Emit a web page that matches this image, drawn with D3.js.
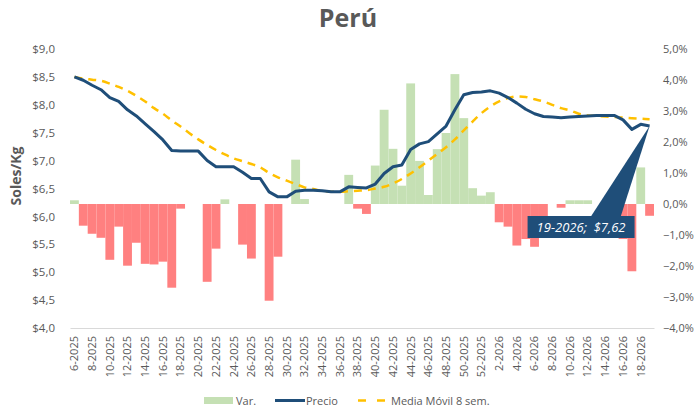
<!DOCTYPE html>
<html>
<head>
<meta charset="utf-8">
<script src="https://cdn.jsdelivr.net/npm/d3@7"></script>
<style>
  body { margin: 0; background: #fff; }
  text { font-family: "Open Sans", sans-serif; fill: #595959; }
</style>
</head>
<body>
<div id="chart"></div>
<script>
// weekly categories (week-year)
var weeks = ["6-2025","7-2025","8-2025","9-2025","10-2025","11-2025","12-2025","13-2025","14-2025","15-2025",
  "16-2025","17-2025","18-2025","19-2025","20-2025","21-2025","22-2025","23-2025","24-2025","25-2025",
  "26-2025","27-2025","28-2025","29-2025","30-2025","31-2025","32-2025","33-2025","34-2025","35-2025",
  "36-2025","37-2025","38-2025","39-2025","40-2025","41-2025","42-2025","43-2025","44-2025","45-2025",
  "46-2025","47-2025","48-2025","49-2025","50-2025","51-2025","52-2025","1-2026","2-2026","3-2026",
  "4-2026","5-2026","6-2026","7-2026","8-2026","9-2026","10-2026","11-2026","12-2026","13-2026",
  "14-2026","15-2026","16-2026","17-2026","18-2026","19-2026"];

// weekly variation, %
var variacion = [0.12,-0.70,-0.96,-1.09,-1.80,-0.73,-1.99,-1.25,-1.93,-1.95,
  -1.86,-2.70,-0.15,0,0,-2.51,-1.44,0.15,0,-1.31,
  -1.76,0,-3.12,-1.70,0,1.43,0.16,0,0,0,
  0,0.94,-0.15,-0.32,1.24,3.04,1.78,0.59,3.89,1.39,
  0.29,1.77,2.29,4.19,2.77,0.51,0.27,0.38,-0.59,-0.73,
  -1.34,-1.13,-1.38,-0.60,0,-0.12,0.12,0.12,0.12,0,
  0,0,-1.13,-2.17,1.18,-0.38];

// price, soles/kg
var precio = [8.50,8.44,8.35,8.27,8.13,8.06,7.91,7.80,7.66,7.52,
  7.37,7.18,7.17,7.17,7.17,7.00,6.89,6.89,6.89,6.79,
  6.68,6.68,6.44,6.35,6.35,6.45,6.47,6.47,6.46,6.44,
  6.44,6.53,6.52,6.51,6.58,6.77,6.89,6.92,7.20,7.30,
  7.34,7.48,7.62,7.91,8.18,8.22,8.23,8.25,8.21,8.13,
  8.03,7.92,7.84,7.79,7.78,7.77,7.78,7.79,7.80,7.81,
  7.81,7.81,7.73,7.56,7.65,7.62];

// 8-week moving average
var mediaMovil = [8.50,8.47,8.45,8.43,8.38,8.32,8.25,8.16,8.06,7.94,
  7.84,7.72,7.61,7.49,7.38,7.28,7.19,7.11,7.04,6.99,
  6.94,6.88,6.78,6.70,6.64,6.58,6.52,6.49,6.46,6.44,
  6.44,6.45,6.46,6.47,6.50,6.53,6.59,6.67,6.77,6.88,
  7.00,7.12,7.24,7.38,7.54,7.70,7.85,7.97,8.06,8.12,
  8.15,8.14,8.10,8.06,8.00,7.94,7.90,7.84,7.81,7.80,
  7.79,7.78,7.77,7.76,7.75,7.74];

var leftTicks = [4,4.5,5,5.5,6,6.5,7,7.5,8,8.5,9];
var rightTicks = [-4,-3,-2,-1,0,1,2,3,4,5];

var width = 695, height = 411;
var plot = {left: 70, right: 654, top: 49, bottom: 328};

var svg = d3.select("#chart").append("svg")
  .attr("width", width)
  .attr("height", height);

var x = d3.scaleBand().domain(weeks).range([plot.left, plot.right]).padding(0);
var yL = d3.scaleLinear().domain([4, 9]).range([plot.bottom, plot.top]);
var yR = d3.scaleLinear().domain([-4, 5]).range([plot.bottom, plot.top]);

var comma = function(s){ return s.replace(".", ","); };

// title
svg.append("text")
  .attr("x", 348).attr("y", 27)
  .attr("text-anchor", "middle")
  .style("font-size", "25px").style("font-weight", "bold")
  .text("Perú");

// bars (Var.)
svg.append("g").selectAll("rect")
  .data(variacion)
  .join("rect")
    .attr("x", function(d, i){ return x(weeks[i]); })
    .attr("width", x.bandwidth())
    .attr("y", function(d){ return d >= 0 ? yR(d) : yR(0); })
    .attr("height", function(d){ return Math.abs(yR(d) - yR(0)); })
    .attr("fill", function(d){ return d >= 0 ? "#C5E0B4" : "#FF8080"; });

// x axis
var xAxis = svg.append("g")
  .attr("transform", "translate(0," + plot.bottom + ")")
  .call(d3.axisBottom(x).tickSize(0).tickValues(weeks.filter(function(d, i){ return i % 2 == 0; })));
xAxis.select(".domain").attr("stroke", "#D9D9D9");
xAxis.selectAll("text")
  .attr("transform", "rotate(-90)")
  .attr("text-anchor", "end")
  .attr("x", -8).attr("y", 0).attr("dy", "0.35em")
  .style("font-size", "11px").style("fill", "#595959");

// left axis
var lAxis = svg.append("g")
  .attr("transform", "translate(" + (plot.left - 12) + ",0)")
  .call(d3.axisLeft(yL).tickValues(leftTicks).tickSize(0)
    .tickFormat(function(d){ return "$" + comma(d3.format(".1f")(d)); }));
lAxis.select(".domain").remove();
lAxis.selectAll("text").style("font-size", "11.5px").style("fill", "#595959");

// right axis
var rAxis = svg.append("g")
  .attr("transform", "translate(" + (plot.right + 6) + ",0)")
  .call(d3.axisRight(yR).tickValues(rightTicks).tickSize(0)
    .tickFormat(function(d){ return comma(d3.format(".1f")(d)) + "%"; }));
rAxis.select(".domain").remove();
rAxis.selectAll("text").style("font-size", "11px").style("fill", "#595959");

// axis title
svg.append("text")
  .attr("transform", "translate(21,176) rotate(-90)")
  .attr("text-anchor", "middle")
  .style("font-size", "14px").style("font-weight", "bold")
  .text("Soles/Kg");

var cx = function(i){ return x(weeks[i]) + x.bandwidth() / 2; };

// moving average
svg.append("path")
  .datum(mediaMovil)
  .attr("fill", "none")
  .attr("stroke", "#FFC000")
  .attr("stroke-width", 2.5)
  .attr("stroke-dasharray", "8,6")
  .attr("d", d3.line().x(function(d, i){ return cx(i); }).y(function(d){ return yL(d); }).curve(d3.curveMonotoneX));

// price line
svg.append("path")
  .datum(precio)
  .attr("fill", "none")
  .attr("stroke", "#1F4E79")
  .attr("stroke-width", 3)
  .attr("stroke-linejoin", "round")
  .attr("d", d3.line().x(function(d, i){ return cx(i); }).y(function(d){ return yL(d); }));

// callout for last value
var last = precio.length - 1;
var px = cx(last), py = yL(precio[last]);
var box = {x: px - 122, y: py + 90, w: 107, h: 22};
var callout = svg.append("g");
callout.append("path")
  .attr("d", "M" + (box.x + 63) + "," + (box.y + 1) + "L" + px + "," + py + "L" + (box.x + 93) + "," + (box.y + 1) + "Z")
  .attr("fill", "#1F4E79");
callout.append("rect")
  .attr("x", box.x).attr("y", box.y).attr("width", box.w).attr("height", box.h)
  .attr("fill", "#1F4E79");
callout.append("text")
  .attr("x", box.x + box.w / 2).attr("y", box.y + 16)
  .attr("text-anchor", "middle")
  .style("font-size", "13px").style("font-style", "italic").style("fill", "#fff")
  .style("white-space", "pre")
  .text(weeks[last] + ";  $" + comma(d3.format(".2f")(precio[last])));

// legend
var legend = svg.append("g");
legend.append("rect").attr("x", 204).attr("y", 397).attr("width", 29).attr("height", 7).attr("fill", "#C5E0B4");
legend.append("text").attr("x", 236).attr("y", 404.5).style("font-size", "11px").text("Var.");
legend.append("line").attr("x1", 275).attr("x2", 305).attr("y1", 400.5).attr("y2", 400.5)
  .attr("stroke", "#1F4E79").attr("stroke-width", 3);
legend.append("text").attr("x", 306).attr("y", 404.5).style("font-size", "11px").text("Precio");
legend.append("line").attr("x1", 358).attr("x2", 386).attr("y1", 400.5).attr("y2", 400.5)
  .attr("stroke", "#FFC000").attr("stroke-width", 2.5).attr("stroke-dasharray", "8,11");
legend.append("text").attr("x", 391).attr("y", 404.5).style("font-size", "11px").text("Media Móvil 8 sem.");
</script>
</body>
</html>
